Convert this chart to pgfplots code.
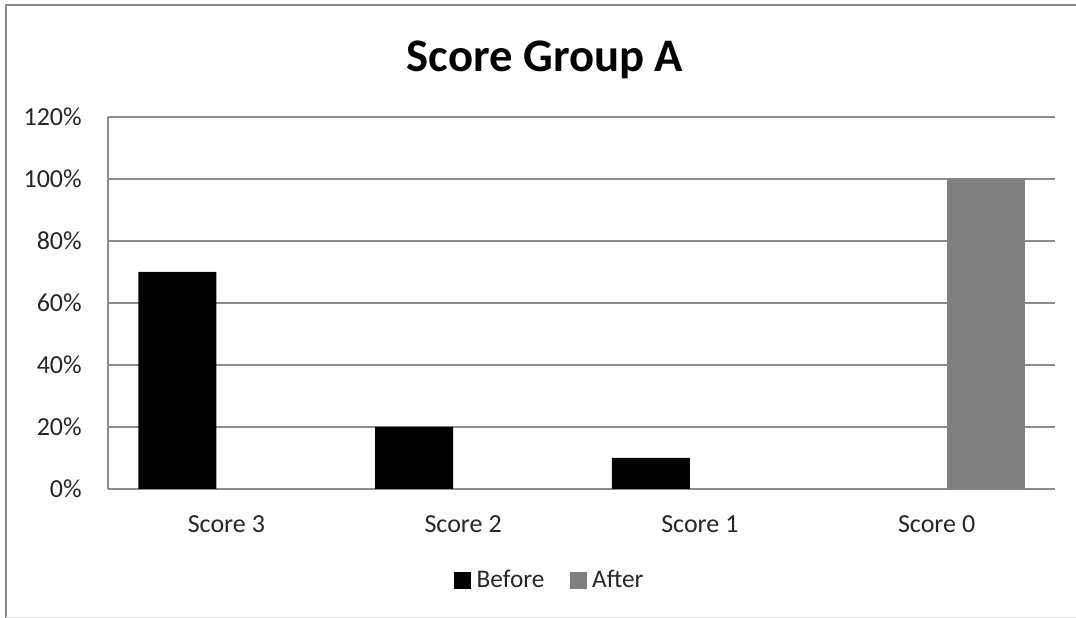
\documentclass[border=0pt]{standalone}
\usepackage{pgfplots}
\pgfplotsset{compat=1.18}
\usepackage{fontspec}
\setmainfont{Carlito}
\definecolor{gridc}{HTML}{8C8C8C}
\definecolor{framec}{HTML}{8A8A8A}
\definecolor{aftc}{HTML}{808080}
\definecolor{txt}{HTML}{262626}
\begin{document}
\begin{tikzpicture}
\useasboundingbox (0pt,0pt) rectangle (807pt,463.5pt);
% outer frame (left and top edges)
\draw[framec, line width=1.5pt] (4.5pt,0pt) -- (4.5pt,459.4pt) -- (807pt,459.4pt);
\draw[black!12, line width=0.6pt] (4.5pt,0.4pt) -- (807pt,0.4pt);
% title
\node[anchor=base, inner sep=0pt, font=\fontsize{35}{40}\selectfont\bfseries, text=black] at (408.75pt,409.5pt) {Score Group A};
\begin{axis}[
  at={(81pt,96.75pt)}, anchor=south west,
  scale only axis, width=710.25pt, height=279pt,
  xmin=-0.5, xmax=3.5, ymin=0, ymax=120,
  xtick={0,1,2,3}, xticklabels={Score 3,Score 2,Score 1,Score 0},
  ytick={0,20,40,60,80,100,120},
  yticklabels={0\%,20\%,40\%,60\%,80\%,100\%,120\%},
  major tick length=0pt,
  axis x line*=bottom, axis y line*=left,
  axis line style={draw=gridc, line width=0.9pt, -},
  ymajorgrids, grid style={draw=gridc, line width=0.9pt},
  ticklabel style={font=\fontsize{19.5}{22}\selectfont, text=txt},
  yticklabel style={anchor=east, inner sep=0pt, xshift=-19.5pt},
  xticklabel style={anchor=base, inner sep=0pt, yshift=-32.25pt},
  legend columns=2,
  legend style={at={(0.467,-0.245)}, anchor=center, draw=none, fill=none,
    font=\fontsize{19}{22}\selectfont, text=txt,
    /tikz/every odd column/.append style={column sep=2pt},
    /tikz/every even column/.append style={column sep=17pt}},
  legend cell align=left,
  clip=false,
]
\addplot[ybar, bar width=58.5pt, bar shift=-36.75pt, fill=black, draw=none,
  legend image code/.code={\fill[black] (0pt,-6.4pt) rectangle (12.75pt,6.4pt);}]
  coordinates {(0,70) (1,20) (2,10)};
\addlegendentry{Before}
\addplot[ybar, bar width=58.5pt, bar shift=36.75pt, fill=aftc, draw=none,
  legend image code/.code={\fill[aftc] (0pt,-6.4pt) rectangle (12.75pt,6.4pt);}]
  coordinates {(3,100)};
\addlegendentry{After}
\end{axis}
\end{tikzpicture}
\end{document}
